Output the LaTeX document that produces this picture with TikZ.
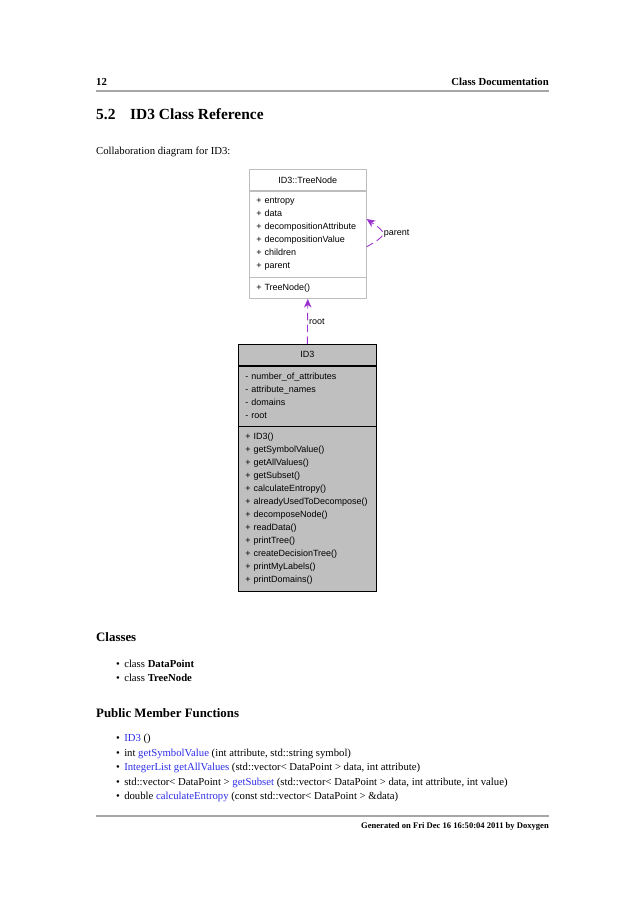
\documentclass[tikz,border=0pt]{standalone}
\usepackage{fontspec}
\setmainfont{Liberation Serif}
\setsansfont{Liberation Sans}
\usetikzlibrary{arrows.meta, positioning}
\definecolor{cpurple}{HTML}{9A32CD}
\definecolor{clink}{HTML}{2E2EE8}
\definecolor{cfill}{HTML}{BFBFBF}
\definecolor{cedge}{HTML}{BDBDBD}
\definecolor{crule}{HTML}{A6A6A6}
\tikzset{
  txt/.style={anchor=base west, inner sep=0pt, font=\fontsize{10}{12}\selectfont},
  head/.style={anchor=base west, inner sep=0pt, font=\bfseries\fontsize{12}{14}\selectfont},
  pagerule/.style={draw=crule, line width=1.1pt},
  tnpart/.style={draw=cedge, line width=0.6pt, text width=96.2pt, inner xsep=6.5pt, inner ysep=2pt, align=left, minimum height=#1, font=\sffamily\fontsize{8.4}{12.13}\selectfont},
  idpart/.style={draw=black, fill=cfill, line width=0.6pt, text width=115.8pt, inner xsep=6.5pt, inner ysep=2pt, align=left, minimum height=#1, font=\sffamily\fontsize{8.4}{12.13}\selectfont},
  assoc/.style={draw=cpurple, line width=0.8pt, dash pattern=on 7pt off 4pt, -{Stealth[length=8pt, width=7pt, inset=2.5pt]}},
  lbl/.style={font=\sffamily\fontsize{8.4}{10}\selectfont, inner sep=1pt},
}
\newcommand{\pub}[1]{+~#1}
\newcommand{\priv}[1]{-~#1}
\newcommand{\lnk}[1]{\textcolor{clink}{#1}}
\newcommand{\itm}{\textbullet\hspace{4pt}}
\begin{document}
\begin{tikzpicture}[x=0.9333pt, y=-0.9333pt]
  \useasboundingbox[fill=white] (0,0) rectangle (638,902);
  % page header
  \node[txt, font=\bfseries\fontsize{10}{12}\selectfont] (pgnum) at (96,86) {12};
  \node[txt, anchor=base east, font=\bfseries\fontsize{10}{12}\selectfont] (chap) at (549,86) {Class Documentation};
  \draw[pagerule] (96,91) -- (549,91);
  \node[txt, font=\bfseries\fontsize{14.4}{17}\selectfont] (secnum) at (96,120) {5.2};
  \node[txt, font=\bfseries\fontsize{14.4}{17}\selectfont] (sectitle) at (130,120) {ID3 Class Reference};
  \node[txt] (collab) at (96,155) {Collaboration diagram for ID3:};
  % class ID3::TreeNode
  \node[tnpart=19.6pt, align=center, anchor=north west] (tntitle) at (249,169) {ID3::TreeNode};
  \node[tnpart=80.3pt, below=0pt of tntitle] (tnattr) {\pub{entropy}\\\pub{data}\\\pub{decompositionAttribute}\\\pub{decompositionValue}\\\pub{children}\\\pub{parent}};
  \node[tnpart=19.6pt, below=0pt of tnattr] (tnmeth) {\pub{TreeNode()}};
  % class ID3
  \node[idpart=19.6pt, align=center, anchor=north west] (idtitle) at (238,344) {ID3};
  \node[idpart=56pt, below=0pt of idtitle] (idattr) {\priv{number\_of\_attributes}\\\priv{attribute\_names}\\\priv{domains}\\\priv{root}};
  \node[idpart=154pt, below=0pt of idattr] (idmeth) {\pub{ID3()}\\\pub{getSymbolValue()}\\\pub{getAllValues()}\\\pub{getSubset()}\\\pub{calculateEntropy()}\\\pub{alreadyUsedToDecompose()}\\\pub{decomposeNode()}\\\pub{readData()}\\\pub{printTree()}\\\pub{createDecisionTree()}\\\pub{printMyLabels()}\\\pub{printDomains()}};
  % associations
  \draw[assoc] (idtitle.north) -- node[lbl, right] {root} (tnmeth.south);
  \draw[assoc] ([yshift=-12pt]tnattr.east) to[out=30, in=-35, looseness=2.3] node[lbl, right] {parent} ([yshift=14pt]tnattr.east);
  % member lists
  \node[head] (classes) at (96,641) {Classes};
  \node[txt] (c1) at (116,667) {\itm class \textbf{DataPoint}};
  \node[txt] (c2) at (116,681) {\itm class \textbf{TreeNode}};
  \node[head] (pubfun) at (96,717) {Public Member Functions};
  \node[txt] (f1) at (116,741.5) {\itm \lnk{ID3} ()};
  \node[txt] (f2) at (116,756) {\itm int \lnk{getSymbolValue} (int attribute, std::string symbol)};
  \node[txt] (f3) at (116,770.5) {\itm \lnk{IntegerList} \lnk{getAllValues} (std::vector< DataPoint > data, int attribute)};
  \node[txt] (f4) at (116,785) {\itm std::vector< DataPoint > \lnk{getSubset} (std::vector< DataPoint > data, int attribute, int value)};
  \node[txt] (f5) at (116,799.5) {\itm double \lnk{calculateEntropy} (const std::vector< DataPoint > \&data)};
  % footer
  \draw[pagerule] (96,816) -- (549,816);
  \node[txt, anchor=base east, font=\bfseries\fontsize{8}{10}\selectfont] (gen) at (549,828) {Generated on Fri Dec 16 16:50:04 2011 by Doxygen};
\end{tikzpicture}
\end{document}
